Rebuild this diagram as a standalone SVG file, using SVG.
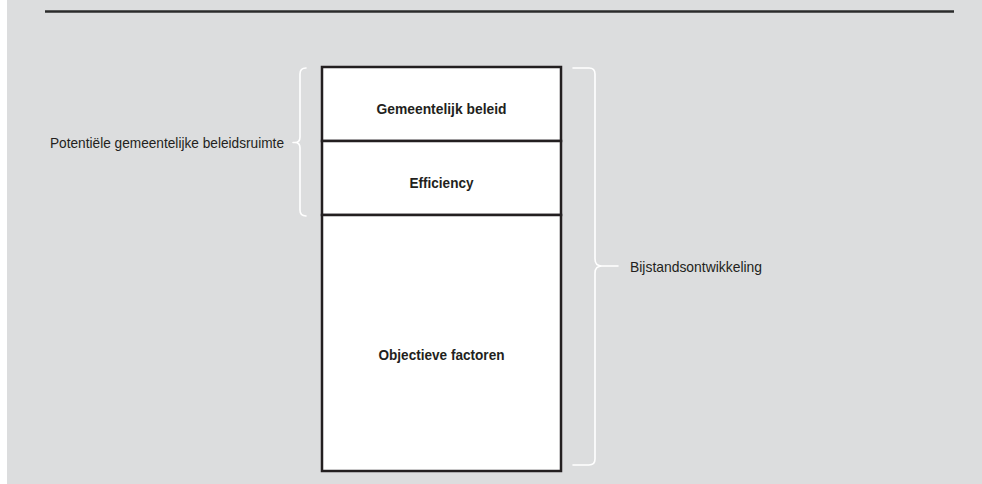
<svg xmlns="http://www.w3.org/2000/svg" width="982" height="484" viewBox="0 0 982 484">
<style>
.bg{fill:#dcddde}
.box{fill:#ffffff;stroke:#231f20;stroke-width:2.5}
.brace{fill:none;stroke:#ffffff;stroke-width:1.6;stroke-linecap:round;stroke-linejoin:round}
.lbl{font-family:"Liberation Sans Narrow","Liberation Sans",Arial,sans-serif;font-size:15px;fill:#231f20}
.bold{font-family:"Liberation Sans Narrow","Liberation Sans",Arial,sans-serif;font-size:15px;font-weight:bold;fill:#231f20;text-anchor:middle}
</style>
<rect class="bg" x="7" y="0" width="975" height="484"/>
<line x1="45" y1="11.5" x2="954" y2="11.5" stroke="#2b2b2b" stroke-width="2.6"/>
<g id="stack">
<g id="node-gemeentelijk-beleid">
<rect class="box" x="322" y="67" width="239" height="74"/>
<text class="bold" x="441.5" y="113.5" textLength="130" lengthAdjust="spacingAndGlyphs">Gemeentelijk beleid</text>
</g>
<g id="node-efficiency">
<rect class="box" x="322" y="141" width="239" height="74"/>
<text class="bold" x="441.5" y="187.5" textLength="64" lengthAdjust="spacingAndGlyphs">Efficiency</text>
</g>
<g id="node-objectieve-factoren">
<rect class="box" x="322" y="215" width="239" height="256"/>
<text class="bold" x="441.5" y="359.5" textLength="126" lengthAdjust="spacingAndGlyphs">Objectieve factoren</text>
</g>
</g>
<g id="connectors">
<path class="brace" d="M306,68 Q300,68 300,74 V137 Q300,142.5 295,142.5 H293 M295,142.5 Q300,142.5 300,148 V210 Q300,216 306,216"/>
<path class="brace" d="M573,68 H589 Q595,68 595,74 V259 Q595,266 602,266 H618 M602,266 Q595,266 595,273 V459 Q595,465 589,465 H573"/>
</g>
<g id="label-potentiele">
<text class="lbl" x="50" y="147.5" textLength="234" lengthAdjust="spacingAndGlyphs">Potentiële gemeentelijke beleidsruimte</text>
</g>
<g id="label-bijstand">
<text class="lbl" x="630" y="271.5" textLength="132" lengthAdjust="spacingAndGlyphs">Bijstandsontwikkeling</text>
</g>
</svg>
